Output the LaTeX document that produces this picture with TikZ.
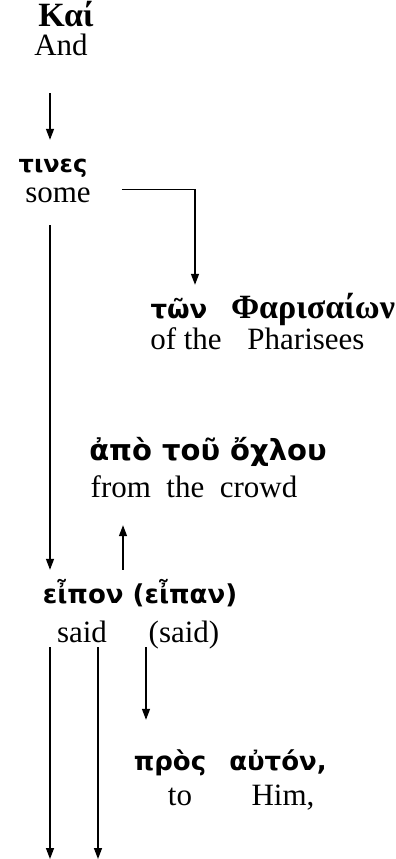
\documentclass[tikz,border=0pt]{standalone}
\usepackage{fontspec}
\setmainfont{Liberation Serif}
\newfontfamily\grk{DejaVu Sans}
\usetikzlibrary{arrows.meta}
\newcommand{\TrunkX}{50}
\newcommand{\SaidX}{98}
\newcommand{\UpX}{123}
\newcommand{\ProsX}{146}

\begin{document}
\begin{tikzpicture}[
    x=1pt, y=-1pt,
    word/.style={anchor=base, inner sep=0pt, text height=18pt, text depth=5pt},
    gk/.style={word, font=\grk\bfseries\fontsize{26}{30}\selectfont},
    gkserif/.style={word, font=\bfseries\fontsize{34}{38}\selectfont},
    gloss/.style={word, font=\fontsize{31}{36}\selectfont},
    arr/.style={-{Triangle[length=11pt, width=8pt]}, line width=1.4pt},
  ]
\useasboundingbox (0,0) rectangle (396,859);

% Greek words and their glosses, placed on their baselines.
\node[gkserif] (kai) at (66,27) {Καί};
\node[gloss] (and) at (61,56) {And};
\node[gk, font=\grk\bfseries\fontsize{24}{28}\selectfont] (tines) at (53,172) {τινες};
\node[gloss] (some) at (58,202) {some};
\node[gk] (ton) at (179,318) {τῶν};
\node[gkserif] (pharis) at (313,318) {Φαρισαίων};
\node[gloss] (ofthe) at (186,349) {of the};
\node[gloss] (pharisees) at (306,349) {Pharisees};
\node[gk, font=\grk\bfseries\fontsize{29}{33}\selectfont] (apo) at (208,460) {ἀπὸ τοῦ ὄχλου};
\node[gloss] (crowd) at (194,497) {from\ \ the\ \ crowd};
\node[gk] (eipon) at (140,603) {εἶπον (εἶπαν)};
\node[gloss] (said) at (82,642) {said};
\node[gloss] (saidb) at (184,642) {(said)};
\node[gk] (pros) at (170,770) {πρὸς};
\node[gk] (auton) at (278,770) {αὐτόν,};
\node[gloss] (to) at (180,805) {to};
\node[gloss] (him) at (283,805) {Him,};

% Columns the arrows run in, and the open ends at the foot.
\coordinate (trunk) at (\TrunkX,0);
\coordinate (saidcol) at (\SaidX,0);
\coordinate (upcol) at (\UpX,0);
\coordinate (proscol) at (\ProsX,0);
\coordinate (footA) at (\TrunkX,859);
\coordinate (footB) at (\SaidX,859);

\draw[arr, shorten <=32pt, shorten >=14pt] (and.south -| trunk) -- (tines.north -| trunk);
\draw[arr, shorten <=31pt, shorten >=15pt] ([yshift=6pt]some.east) -| ([xshift=16pt]ton.north);
\draw[arr, shorten <=18pt, shorten >=15pt] (some.south -| trunk) -- (eipon.north -| trunk);
\draw[arr, shorten <=15pt, shorten >=23pt] (eipon.north -| upcol) -- (crowd.south -| upcol);
\draw[arr] (said.south -| trunk) -- (footA);
\draw[arr] (said.south -| saidcol) -- (footB);
\draw[arr, shorten >=32pt] (saidb.south -| proscol) -- (pros.north -| proscol);

\end{tikzpicture}
\end{document}
